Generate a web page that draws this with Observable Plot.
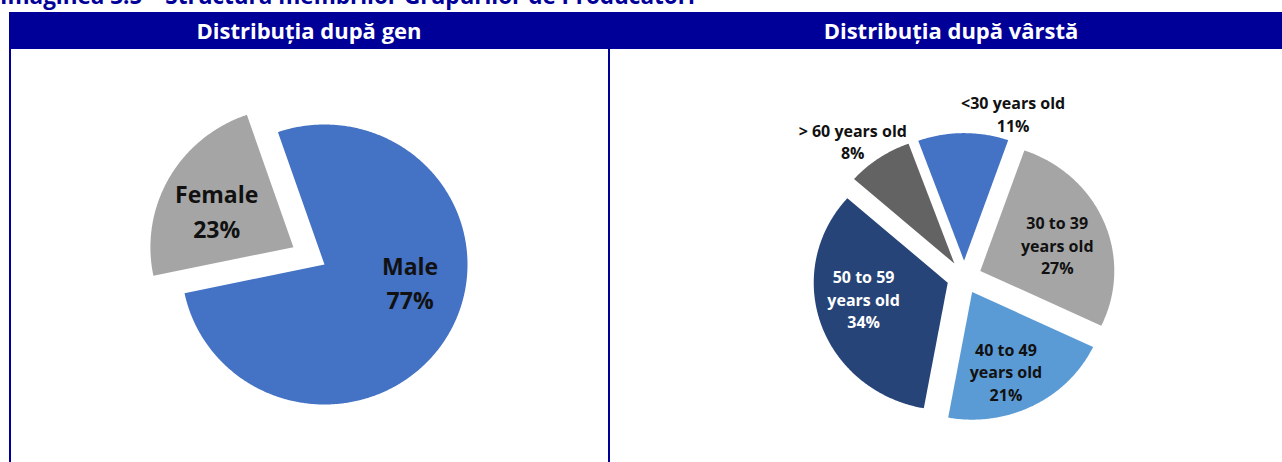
<!DOCTYPE html>
<html>
<head>
<meta charset="utf-8">
<script src="https://cdn.jsdelivr.net/npm/d3@7"></script>
<script src="https://cdn.jsdelivr.net/npm/@observablehq/plot@0.6"></script>
<style>
html, body { margin: 0; padding: 0; width: 1282px; height: 462px; overflow: hidden; background: #fff; font-family: "Open Sans", sans-serif; }
#title { position: absolute; left: 0; top: -16px; font-weight: bold; font-size: 22.5px; line-height: 24px; color: #000099; white-space: nowrap; }
.hdr { position: absolute; top: 12px; height: 37px; background: #000099; color: #fff; font-weight: bold; font-size: 22px; text-align: center; line-height: 37px; white-space: nowrap; }
.vline { position: absolute; top: 49px; width: 2px; height: 420px; background: #000099; }
.panel { position: absolute; top: 50px; }
.panel svg { display: block; }
</style>
</head>
<body>
<div id="title">Imaginea 3.5 – Structura membrilor Grupurilor de Producători</div>
<div class="hdr" id="hdrLeft" style="left:9px; width:600px;"></div>
<div class="hdr" id="hdrRight" style="left:609px; width:684px;"></div>
<div class="vline" style="left:9px;"></div>
<div class="vline" style="left:608px;"></div>
<div class="panel" id="left" style="left:11px;"></div>
<div class="panel" id="right" style="left:610px;"></div>
<script>
// ---- data ----
const panelTitles = ["Distribuția după gen", "Distribuția după vârstă"];

const genderCategories = ["Male", "Female"];
const genderValues = [77, 23];
const genderNames = ["Male", "Female"];
const genderPercentLabels = ["77%", "23%"];

const ageCategories = ["<30", "30-39", "40-49", "50-59", ">60"];
const ageValues = [11, 27, 21, 34, 8];
const ageNames = ["<30 years old", "30 to 39\nyears old", "40 to 49\nyears old", "50 to 59\nyears old", "> 60 years old"];
const agePercentLabels = ["11%", "27%", "21%", "34%", "8%"];

// ---- styles / layout ----
const genderColors = ["#4472C4", "#A5A5A5"];
const ageColors = ["#4472C4", "#A5A5A5", "#5B9BD5", "#264478", "#636363"];
const genderExplode = [0, 0.25];
const ageExplode = [0.13, 0.13, 0.13, 0.13, 0.13];
// label placement: radius (in pie radii) and angle nudge (degrees) from slice bisector
const genderLabelPlace = [{r: 0.61, da: -18.5}, {r: 0.6, da: -3}];
const ageLabelPlace = [{r: 1.21, da: 18}, {r: 0.61, da: 3}, {r: 0.67, da: 5}, {r: 0.64, da: 8}, {r: 1.225, da: -4}];

document.getElementById("hdrLeft").textContent = panelTitles[0];
document.getElementById("hdrRight").textContent = panelTitles[1];

const D2R = Math.PI / 180;

function pieGeometry(cats, values, names, pcts, startDeg, explode, place) {
  const arcs = d3.pie().sort(null)
    .startAngle(startDeg * D2R)
    .endAngle(startDeg * D2R + 2 * Math.PI)(values);
  const pts = [];
  const labels = [];
  arcs.forEach((a, i) => {
    const mid = (a.startAngle + a.endAngle) / 2;
    const ox = explode[i] * Math.sin(mid), oy = -explode[i] * Math.cos(mid);
    const n = Math.max(2, Math.ceil((a.endAngle - a.startAngle) / (0.5 * D2R)));
    pts.push({cat: cats[i], x: ox, y: oy});
    for (let k = 0; k <= n; k++) {
      const t = a.startAngle + (a.endAngle - a.startAngle) * k / n;
      pts.push({cat: cats[i], x: ox + Math.sin(t), y: oy - Math.cos(t)});
    }
    pts.push({cat: cats[i], x: ox, y: oy});
    const la = mid + place[i].da * D2R;
    labels.push({
      cat: cats[i],
      text: names[i] + "\n" + pcts[i],
      x: ox + place[i].r * Math.sin(la),
      y: oy - place[i].r * Math.cos(la),
      inside: place[i].r < 1
    });
  });
  return {pts, labels};
}

function piePlot(opt) {
  const {width, height, cx, cy, rx, ry, cats, colors, geo, fontSize, lineHeight} = opt;
  const light = (d) => d.inside && d3.hsl(colors[cats.indexOf(d.cat)]).l < 0.35;
  const textOpts = {
    x: "x", y: "y", text: "text", fontWeight: "bold", fontSize,
    fontFamily: "Open Sans", lineHeight, lineAnchor: "middle", textAnchor: "middle"
  };
  return Plot.plot({
    width, height, margin: 0,
    style: {background: "transparent", overflow: "visible"},
    x: {domain: [-cx / rx, (width - cx) / rx], range: [0, width], axis: null},
    y: {domain: [-cy / ry, (height - cy) / ry], range: [0, height], axis: null},
    color: {domain: cats, range: colors},
    marks: [
      Plot.line(geo.pts, {x: "x", y: "y", z: "cat", fill: "cat", stroke: "none", curve: "linear"}),
      Plot.text(geo.labels.filter(d => !light(d)), {...textOpts, fill: "#111111"}),
      Plot.text(geo.labels.filter(d => light(d)), {...textOpts, fill: "#ffffff"})
    ]
  });
}

const genderGeo = pieGeometry(genderCategories, genderValues, genderNames, genderPercentLabels, -19, genderExplode, genderLabelPlace);
document.getElementById("left").append(piePlot({
  width: 597, height: 412, cx: 313, cy: 214, rx: 143, ry: 140,
  cats: genderCategories, colors: genderColors, geo: genderGeo, fontSize: 23, lineHeight: 1.48
}));

const ageGeo = pieGeometry(ageCategories, ageValues, ageNames, agePercentLabels, -20, ageExplode, ageLabelPlace);
document.getElementById("right").append(piePlot({
  width: 672, height: 412, cx: 353.7, cy: 226.8, rx: 134, ry: 127.6,
  cats: ageCategories, colors: ageColors, geo: ageGeo, fontSize: 16, lineHeight: 1.41
}));
</script>
</body>
</html>
